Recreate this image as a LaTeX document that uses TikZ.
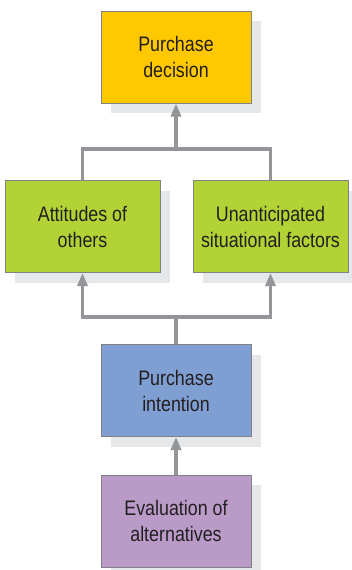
\documentclass[tikz,border=0pt]{standalone}
\usepackage{fontspec}
\setmainfont{Liberation Sans}[FakeStretch=0.85]
\usetikzlibrary{arrows.meta,shadows}
\definecolor{yel}{HTML}{FFC800}
\definecolor{grn}{HTML}{B2D235}
\definecolor{blu}{HTML}{7F9FD2}
\definecolor{pur}{HTML}{BA9BC8}
\definecolor{shad}{HTML}{E6E7E8}
\definecolor{bord}{HTML}{808285}
\definecolor{conc}{HTML}{939598}
\definecolor{txt}{HTML}{231F20}
\begin{document}
\begin{tikzpicture}[x=1pt,y=-1pt,
  box/.style={draw=bord, line width=1pt, minimum height=92pt, align=center,
    text=txt, font=\fontsize{21}{26}\selectfont, inner sep=0pt,
    general shadow={shadow xshift=10pt, shadow yshift=-10pt, fill=shad, draw=none}},
  conn/.style={draw=conc, line width=3.5pt},
  tip/.style={-{Triangle[length=13pt,width=10pt]}}]
\useasboundingbox[fill=white] (0,0) rectangle (352,570);
\node[box, fill=yel, minimum width=150pt] (dec) at (176,57) {Purchase\\decision};
\node[box, fill=grn, minimum width=155pt] (att) at (82.5,226.5) {Attitudes of\\others};
\node[box, fill=grn, minimum width=155pt] (una) at (270.5,226.5) {Unanticipated\\situational factors};
\node[box, fill=blu, minimum width=150pt] (int) at (176,390.5) {Purchase\\intention};
\node[box, fill=pur, minimum width=150pt] (eva) at (176,521) {Evaluation of\\alternatives};
\coordinate (jt) at (176,149);
\coordinate (jb) at (176,317);
\draw[conn] (att.north) |- (jt) -| (una.north);
\draw[conn, tip] (jt) -- (dec.south);
\draw[conn] (int.north) -- (jb);
\draw[conn, tip] (jb) -| (att.south);
\draw[conn, tip] (jb) -| (una.south);
\draw[conn, tip] (eva.north) -- (int.south);
\end{tikzpicture}
\end{document}
